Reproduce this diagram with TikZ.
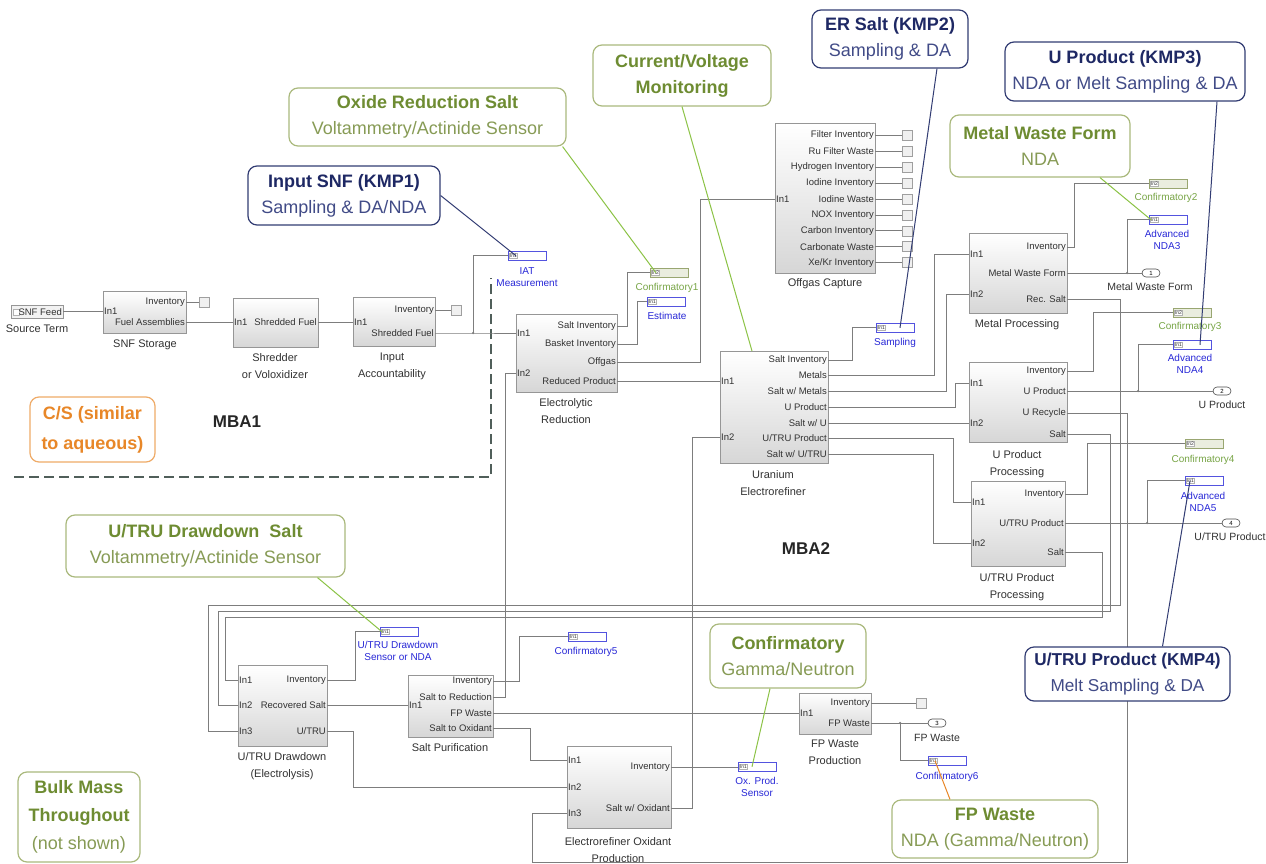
\documentclass[tikz,border=0pt]{standalone}
\usepackage{fontspec}
\setmainfont{Liberation Sans}
\usetikzlibrary{shapes.misc,calc}
\definecolor{wcol}{RGB}{125,125,125}
\definecolor{bcol}{RGB}{150,150,150}
\definecolor{tcol}{RGB}{50,50,50}
\definecolor{mblue}{RGB}{40,40,215}
\definecolor{mgreen}{RGB}{120,165,70}
\definecolor{olv}{RGB}{110,140,50}
\definecolor{olvl}{RGB}{135,155,85}
\definecolor{olvb}{RGB}{170,185,125}
\definecolor{olvline}{RGB}{140,195,70}
\definecolor{navy}{RGB}{30,40,100}
\definecolor{navyl}{RGB}{65,75,135}
\definecolor{navyb}{RGB}{50,60,115}
\definecolor{orng}{RGB}{232,135,40}
\definecolor{dashc}{RGB}{80,95,90}

% measurement block: frame plus the small port tag inside
\newcommand{\mblk}[5]{%
  \node[#4] (#1) at (#2,#3) {};
  \node[mport] at ([xshift=1.2pt]#1.west) {#5};
}

\begin{document}
\begin{tikzpicture}[x=1pt,y=-1pt,
  blk/.style={draw=bcol, top color=white, bottom color=gray!32, anchor=north west, inner sep=0pt, line width=0.7pt},
  pl/.style={font=\fontsize{9.5}{10}\selectfont, text=tcol, inner sep=1pt},
  ol/.style={font=\fontsize{10.5}{11}\selectfont, text=tcol, inner sep=1pt},
  bcap/.style={font=\fontsize{11}{17}\selectfont, text=tcol, align=center, anchor=north, inner sep=1pt},
  bl/.style={font=\fontsize{10}{12}\selectfont, text=mblue, align=center, anchor=north, inner sep=1pt},
  gl/.style={font=\fontsize{10}{12}\selectfont, text=mgreen, align=center, anchor=north, inner sep=1pt},
  wire/.style={draw=wcol, line width=0.8pt},
  jdot/.style={circle, fill=wcol, inner sep=0pt, minimum size=2.5pt},
  termbox/.style={draw=gray!75, fill=gray!12, minimum size=10pt, inner sep=0pt, line width=0.6pt},
  outp/.style={rounded rectangle, draw=gray!60!black, fill=white, minimum width=18pt, minimum height=8pt, inner sep=0pt, font=\fontsize{6}{6}\selectfont, line width=0.6pt},
  mb/.style={draw=mblue!80, fill=white, minimum width=38pt, minimum height=9pt, anchor=north west, inner sep=0pt, line width=0.6pt},
  mg/.style={draw=olvb!90!black, fill=olvb!25, minimum width=38pt, minimum height=9pt, anchor=north west, inner sep=0pt, line width=0.6pt},
  mport/.style={anchor=west, draw=gray!60, fill=white, font=\fontsize{5}{5}\selectfont, text=tcol, inner sep=0.6pt},
  callO/.style={draw=olvb, line width=1.2pt, rounded corners=9pt, fill=white, align=center, font=\fontsize{18}{26}\selectfont, inner sep=2pt},
  callN/.style={draw=navyb, line width=1.2pt, rounded corners=9pt, fill=white, align=center, font=\fontsize{18}{26}\selectfont, inner sep=2pt},
  lnO/.style={draw=olvline, line width=1pt},
  lnN/.style={draw=navyb, line width=1pt},
]
\useasboundingbox (0,0) rectangle (1266,864);
\fill[white] (0,0) rectangle (1266,864);

% ---------------- MBA1 boundary ----------------
\draw[dashc, line width=2.5pt, dash pattern=on 10pt off 5pt] (14,477) -- (491,477) -- (491,278);
\node[font=\fontsize{17}{17}\selectfont\bfseries, text=black!85] (mba1) at (237,422) {MBA1};
\node[font=\fontsize{17}{17}\selectfont\bfseries, text=black!85] (mba2) at (806,549) {MBA2};

% ---------------- head end ----------------
\node[draw=bcol, fill=gray!10, minimum width=52pt, minimum height=13pt, anchor=north west, inner sep=0pt] (src) at (11,305) {};
\node[draw=gray!60, fill=white, minimum size=6pt, inner sep=0pt, anchor=west] at ([xshift=2pt]src.west) {};
\node[pl] at ([xshift=3pt]src.center) {SNF Feed};
\node[bcap] at (37,324) {Source Term};

\node[blk, minimum width=83pt, minimum height=42pt] (sns) at (103,291) {};
\node[pl,anchor=west] (sns-i1) at (103,311.5) {In1};
\node[pl,anchor=east] (sns-inv) at (186,302) {Inventory};
\node[pl,anchor=east] (sns-fa) at (186,322) {Fuel Assemblies};
\node[termbox] (t1) at (204,302) {};
\node[bcap] at (145,339) {SNF Storage};

\node[blk, minimum width=85pt, minimum height=49pt] (shr) at (233,298) {};
\node[pl,anchor=west] (shr-i1) at (233,322) {In1};
\node[pl,anchor=east] (shr-o) at (318,322) {Shredded Fuel};
\node[bcap] at (275,352) {Shredder\\or Voloxidizer};

\node[blk, minimum width=82pt, minimum height=49pt] (ia) at (353,297) {};
\node[pl,anchor=west] (ia-i1) at (353,322) {In1};
\node[pl,anchor=east] (ia-inv) at (435,310) {Inventory};
\node[pl,anchor=east] (ia-sf) at (435,333) {Shredded Fuel};
\node[termbox] (t2) at (456,310) {};
\node[bcap] at (392,352) {Input\\Accountability};

\mblk{iat}{508}{251}{mb}{In1}
\node[bl] at (527,266) {IAT\\Measurement};

\draw[wire] (src.east) -- (src.east -| sns-i1.west);
\draw[wire] (sns-inv.east) -- (t1.west);
\draw[wire] (sns-fa.east) -- (shr-i1.west);
\draw[wire] (shr-o.east) -- (ia-i1.west);
\draw[wire] (ia-inv.east) -- (t2.west);

% ---------------- electrolytic reduction ----------------
\node[blk, minimum width=101pt, minimum height=78pt] (er) at (516,314) {};
\node[pl,anchor=west] (er-i1) at (516,333) {In1};
\node[pl,anchor=west] (er-i2) at (516,373) {In2};
\node[pl,anchor=east] (er-si) at (617,326) {Salt Inventory};
\node[pl,anchor=east] (er-bi) at (617,344) {Basket Inventory};
\node[pl,anchor=east] (er-og) at (617,362) {Offgas};
\node[pl,anchor=east] (er-rp) at (617,381) {Reduced Product};
\node[bcap] at (566,397) {Electrolytic\\Reduction};

\mblk{cf1}{650}{268}{mg}{In2}
\node[gl] at (667,282) {Confirmatory1};
\mblk{est}{647}{297}{mb}{In1}
\node[bl] at (667,311) {Estimate};

\coordinate (j1) at (473,333);
\draw[wire] (ia-sf.east) -- (j1) -- (j1 -| er-i1.west);
\draw[wire] (j1) |- (iat.west);
\node[jdot] at (j1) {};
\draw[wire] (er-si.east) -- ++(10,0) |- (cf1.west);
\draw[wire] (er-bi.east) -- ++(20,0) |- (est.west);

% ---------------- offgas capture ----------------
\node[blk, minimum width=100pt, minimum height=150pt] (og) at (775,123) {};
\node[pl,anchor=west] (og-i1) at (775,199) {In1};
\foreach \t [count=\i] in {Filter Inventory, Ru Filter Waste, Hydrogen Inventory, Iodine Inventory, Iodine Waste, NOX Inventory, Carbon Inventory, Carbonate Waste, Xe/Kr Inventory} {
  \node[pl,anchor=east] (og\i) at (875,{119.5+15.9*\i}) {\t};
  \node[termbox] (ogt\i) at (907,{119.5+15.9*\i}) {};
  \draw[wire] (og\i.east) -- (ogt\i.west);
}
\node[bcap] at (825,277) {Offgas Capture};
\draw[wire] (er-og.east) -- ++(83,0) |- (og-i1.west);

% ---------------- uranium electrorefiner ----------------
\node[blk, minimum width=108pt, minimum height=112pt] (uer) at (720,351) {};
\node[pl,anchor=west] (uer-i1) at (720,381) {In1};
\node[pl,anchor=west] (uer-i2) at (720,437) {In2};
\node[pl,anchor=east] (uer-si) at (828,360) {Salt Inventory};
\node[pl,anchor=east] (uer-me) at (828,375) {Metals};
\node[pl,anchor=east] (uer-sm) at (828,391) {Salt w/ Metals};
\node[pl,anchor=east] (uer-up) at (828,407) {U Product};
\node[pl,anchor=east] (uer-su) at (828,423) {Salt w/ U};
\node[pl,anchor=east] (uer-tp) at (828,438) {U/TRU Product};
\node[pl,anchor=east] (uer-st) at (828,454) {Salt w/ U/TRU};
\node[bcap] at (773,469) {Uranium\\Electrorefiner};

\draw[wire] (er-rp.east) -- (er-rp.east -| uer-i1.west);

\mblk{smp}{876}{323}{mb}{In1}
\node[bl] at (895,337) {Sampling};
\draw[wire] (uer-si.east) -- ++(24,0) |- (smp.west);

% ---------------- metal processing ----------------
\node[blk, minimum width=98pt, minimum height=80pt] (mp) at (969,233) {};
\node[pl,anchor=west] (mp-i1) at (969,254) {In1};
\node[pl,anchor=west] (mp-i2) at (969,294) {In2};
\node[pl,anchor=east] (mp-inv) at (1067,247) {Inventory};
\node[pl,anchor=east] (mp-mwf) at (1067,273) {Metal Waste Form};
\node[pl,anchor=east] (mp-rs) at (1067,299) {Rec. Salt};
\node[bcap] at (1017,318) {Metal Processing};

\mblk{cf2}{1149}{179}{mg}{In2}
\node[gl] at (1166,192) {Confirmatory2};
\mblk{nda3}{1149}{215}{mb}{In1}
\node[bl] at (1167,229) {Advanced\\NDA3};
\node[outp] (op1) at (1151,273) {1};
\node[ol] at (1150,287) {Metal Waste Form};

\draw[wire] (uer-me.east) -- ++(106,0) |- (mp-i1.west);
\draw[wire] (uer-sm.east) -- ++(118,0) |- (mp-i2.west);
\draw[wire] (mp-inv.east) -- ++(7,0) |- (cf2.west);
\coordinate (j2) at (1127,273);
\draw[wire] (mp-mwf.east) -- (op1.west);
\draw[wire] (j2) |- (nda3.west);
\node[jdot] at (j2) {};

% ---------------- U product processing ----------------
\node[blk, minimum width=98pt, minimum height=80pt] (upp) at (969,362) {};
\node[pl,anchor=west] (upp-i1) at (969,383) {In1};
\node[pl,anchor=west] (upp-i2) at (969,423) {In2};
\node[pl,anchor=east] (upp-inv) at (1067,371) {Inventory};
\node[pl,anchor=east] (upp-up) at (1067,391) {U Product};
\node[pl,anchor=east] (upp-ur) at (1067,413) {U Recycle};
\node[pl,anchor=east] (upp-s) at (1067,434) {Salt};
\node[bcap] at (1017,449) {U Product\\Processing};

\mblk{cf3}{1173}{308}{mg}{In2}
\node[gl] at (1190,321) {Confirmatory3};
\mblk{nda4}{1173}{340}{mb}{In1}
\node[bl] at (1190,353) {Advanced\\NDA4};
\node[outp] (op2) at (1222,391) {2};
\node[ol] at (1222,405) {U Product};

\draw[wire] (uer-up.east) -- ++(127,0) |- (upp-i1.west);
\draw[wire] (uer-su.east) -- (uer-su.east -| upp-i2.west);
\draw[wire] (upp-inv.east) -- ++(26,0) |- (cf3.west);
\coordinate (j3) at (1138,391);
\draw[wire] (upp-up.east) -- (op2.west);
\draw[wire] (j3) |- (nda4.west);
\node[jdot] at (j3) {};

% ---------------- U/TRU product processing ----------------
\node[blk, minimum width=94pt, minimum height=85pt] (utp) at (971,481) {};
\node[pl,anchor=west] (utp-i1) at (971,502) {In1};
\node[pl,anchor=west] (utp-i2) at (971,543) {In2};
\node[pl,anchor=east] (utp-inv) at (1065,494) {Inventory};
\node[pl,anchor=east] (utp-tp) at (1065,523) {U/TRU Product};
\node[pl,anchor=east] (utp-s) at (1065,552) {Salt};
\node[bcap] at (1017,572) {U/TRU Product\\Processing};

\mblk{cf4}{1185}{439}{mg}{In2}
\node[gl] at (1203,454) {Confirmatory4};
\mblk{nda5}{1185}{476}{mb}{In1}
\node[bl] at (1203,491) {Advanced\\NDA5};
\node[outp] (op4) at (1231,523) {4};
\node[ol] at (1230,537) {U/TRU Product};

\draw[wire] (uer-tp.east) -- ++(125,0) |- (utp-i1.west);
\draw[wire] (uer-st.east) -- ++(105,0) |- (utp-i2.west);
\draw[wire] (utp-inv.east) -- ++(22,0) |- (cf4.west);
\coordinate (j4) at (1147,523);
\draw[wire] (utp-tp.east) -- (op4.west);
\draw[wire] (j4) |- (nda5.west);
\node[jdot] at (j4) {};

% ---------------- U/TRU drawdown ----------------
\node[blk, minimum width=89pt, minimum height=81pt] (ud) at (238,665) {};
\node[pl,anchor=west] (ud-i1) at (238,680) {In1};
\node[pl,anchor=west] (ud-i2) at (238,705) {In2};
\node[pl,anchor=west] (ud-i3) at (238,731) {In3};
\node[pl,anchor=east] (ud-inv) at (327,680) {Inventory};
\node[pl,anchor=east] (ud-rs) at (327,705) {Recovered Salt};
\node[pl,anchor=east] (ud-ut) at (327,731) {U/TRU};
\node[bcap] at (282,751) {U/TRU Drawdown\\(Electrolysis)};

\mblk{uds}{380}{627}{mb}{In1}
\node[bl] at (398,640) {U/TRU Drawdown\\Sensor or NDA};

% ---------------- salt purification ----------------
\node[blk, minimum width=85pt, minimum height=62pt] (sp) at (408,675) {};
\node[pl,anchor=west] (sp-i1) at (408,705) {In1};
\node[pl,anchor=east] (sp-inv) at (493,681) {Inventory};
\node[pl,anchor=east] (sp-sr) at (493,697) {Salt to Reduction};
\node[pl,anchor=east] (sp-fp) at (493,713) {FP Waste};
\node[pl,anchor=east] (sp-so) at (493,728) {Salt to Oxidant};
\node[bcap] at (450,742) {Salt Purification};

\mblk{cf5}{568}{632}{mb}{In1}
\node[bl] at (586,646) {Confirmatory5};

% ---------------- electrorefiner oxidant production ----------------
\node[blk, minimum width=104pt, minimum height=82pt] (eop) at (567,746) {};
\node[pl,anchor=west] (eop-i1) at (567,760) {In1};
\node[pl,anchor=west] (eop-i2) at (567,787) {In2};
\node[pl,anchor=west] (eop-i3) at (567,813) {In3};
\node[pl,anchor=east] (eop-inv) at (671,767) {Inventory};
\node[pl,anchor=east] (eop-so) at (671,808) {Salt w/ Oxidant};
\node[bcap] at (618,836) {Electrorefiner Oxidant\\Production};

\mblk{oxs}{738}{762}{mb}{In1}
\node[bl] at (757,776) {Ox. Prod.\\Sensor};

% ---------------- FP waste production ----------------
\node[blk, minimum width=72pt, minimum height=41pt] (fp) at (799,693) {};
\node[pl,anchor=west] (fp-i1) at (799,713) {In1};
\node[pl,anchor=east] (fp-inv) at (871,703) {Inventory};
\node[pl,anchor=east] (fp-fp) at (871,723) {FP Waste};
\node[bcap] at (835,739) {FP Waste\\Production};
\node[termbox] (t3) at (921,703) {};
\node[outp] (op3) at (937,723) {3};
\node[ol] at (937,738) {FP Waste};
\mblk{cf6}{928}{756}{mb}{In1}
\node[bl] at (947,771) {Confirmatory6};

% ---------------- salt recycle wiring ----------------
\draw[wire] (sp-sr.east) -- ++(12,0) |- (er-i2.west);
\draw[wire] (eop-so.east) -- ++(21,0) |- (uer-i2.west);
\draw[wire] (mp-rs.east) -- ++(53,0) |- ($(ud-i3.west)+(-30,-126)$) |- (ud-i3.west);
\draw[wire] (upp-s.east) -- ++(43,0) |- ($(ud-i2.west)+(-20,-94)$) |- (ud-i2.west);
\draw[wire] (utp-s.east) -- ++(37,0) |- ($(ud-i1.west)+(-13,-63)$) |- (ud-i1.west);
\draw[wire] (upp-ur.east) -- ++(60,0) |- ($(eop-i3.west)+(-35,49)$) |- (eop-i3.west);
\draw[wire] (ud-inv.east) -- ++(28,0) |- (uds.west);
\draw[wire] (ud-rs.east) -- (sp-i1.west);
\draw[wire] (ud-ut.east) -- ++(26,0) |- (eop-i2.west);
\draw[wire] (sp-inv.east) -- ++(26,0) |- (cf5.west);
\draw[wire] (sp-fp.east) -- (sp-fp.east -| fp-i1.west);
\draw[wire] (sp-so.east) -- ++(37,0) |- (eop-i1.west);
\draw[wire] (eop-inv.east) -- (eop-inv.east -| oxs.west);
\draw[wire] (fp-inv.east) -- (t3.west);
\coordinate (j5) at (900,723);
\draw[wire] (fp-fp.east) -- (op3.west);
\draw[wire] (j5) |- (cf6.west);
\node[jdot] at (j5) {};

% ---------------- safeguards call-outs ----------------
\node[callO, minimum width=277pt, minimum height=58pt] (cOx) at (427.5,117)
  {{\color{olv}\bfseries Oxide Reduction Salt}\\{\color{olvl}Voltammetry/Actinide Sensor}};
\node[callN, minimum width=192pt, minimum height=59pt] (cSNF) at (344,195.5)
  {{\color{navy}\bfseries Input SNF (KMP1)}\\{\color{navyl}Sampling \& DA/NDA}};
\node[callO, minimum width=178pt, minimum height=61pt] (cCV) at (682,75.5)
  {{\color{olv}\bfseries Current/Voltage}\\{\color{olv}\bfseries Monitoring}};
\node[callN, minimum width=156pt, minimum height=58pt] (cER) at (890,39)
  {{\color{navy}\bfseries ER Salt (KMP2)}\\{\color{navyl}Sampling \& DA}};
\node[callN, minimum width=240pt, minimum height=59pt] (cUP) at (1125,71.5)
  {{\color{navy}\bfseries U Product (KMP3)}\\{\color{navyl}NDA or Melt Sampling \& DA}};
\node[callO, minimum width=180pt, minimum height=62pt] (cMW) at (1040,146)
  {{\color{olv}\bfseries Metal Waste Form}\\{\color{olvl}NDA}};
\node[draw=orng!70, line width=1.2pt, rounded corners=9pt, fill=white, align=center, font=\fontsize{18}{30}\selectfont\bfseries, text=orng, minimum width=125pt, minimum height=65pt, inner sep=2pt] (cCS) at (92.5,429.5)
  {C/S (similar\\to aqueous)};
\node[callO, minimum width=279pt, minimum height=62pt] (cUD) at (205.5,546)
  {{\color{olv}\bfseries U/TRU Drawdown\ \ Salt}\\{\color{olvl}Voltammetry/Actinide Sensor}};
\node[callO, minimum width=156pt, minimum height=64pt] (cCG) at (788,656)
  {{\color{olv}\bfseries Confirmatory}\\{\color{olvl}Gamma/Neutron}};
\node[callN, font=\fontsize{17.2}{26}\selectfont, minimum width=205pt, minimum height=54pt] (cUT) at (1127.5,674)
  {{\color{navy}\bfseries U/TRU\ Product (KMP4)}\\{\color{navyl}Melt Sampling \& DA}};
\node[callO, minimum width=206pt, minimum height=58pt] (cFP) at (995,829)
  {{\color{olv}\bfseries FP Waste}\\{\color{olvl}NDA (Gamma/Neutron)}};
\node[callO, font=\fontsize{18}{28}\selectfont, minimum width=122pt, minimum height=90pt] (cBM) at (79,817)
  {{\color{olv}\bfseries Bulk Mass}\\{\color{olv}\bfseries Throughout}\\{\color{olvl}(not shown)}};

% call-out leaders
\draw[lnN] (cSNF.east) -- ([xshift=8pt]iat.west);
\draw[lnO] ([xshift=-4pt]cOx.south east) -- ([xshift=6pt]cf1.west);
\draw[lnO] (cCV.south) -- ([xshift=32pt]uer.north west);
\draw[lnN] ([xshift=47pt]cER.south) -- ([xshift=24pt]smp.west);
\draw[lnN] ([xshift=92pt]cUP.south) -- ([xshift=27pt]nda4.west);
\draw[lnO] ([xshift=60pt]cMW.south) -- ([xshift=2pt]nda3.west);
\draw[lnO] ([xshift=112pt]cUD.south) -- ([xshift=2pt]uds.west);
\draw[lnO] ([xshift=-18pt]cCG.south) -- ([xshift=14pt]oxs.west);
\draw[lnN] ([xshift=35pt]cUT.north) -- ([xshift=5pt]nda5.west);
\draw[orng, line width=1pt] ([xshift=-45pt]cFP.north) -- ([xshift=7pt]cf6.west);
\end{tikzpicture}
\end{document}
